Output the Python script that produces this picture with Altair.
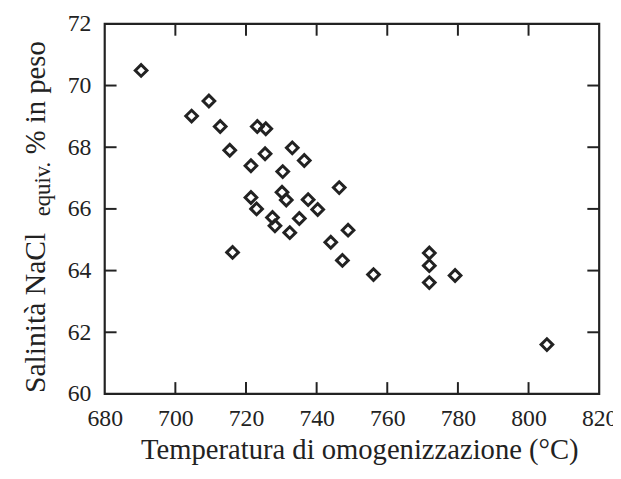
import altair as alt
import pandas as pd

# Data
temperatura = [690.3, 704.6, 709.5, 712.7, 723.2, 725.6, 715.4, 725.4, 733.1, 736.5, 721.4,
               730.4, 746.4, 721.4, 730.2, 731.4, 737.6, 740.3, 723.0, 727.5, 728.2, 735.1,
               732.4, 748.9, 744.0, 747.3, 716.2, 756.1, 771.9, 771.9, 771.9, 779.2, 805.2]
salinita = [70.49, 69.01, 69.5, 68.67, 68.67, 68.6, 67.9, 67.79, 67.98, 67.57, 67.40,
            67.21, 66.69, 66.37, 66.54, 66.29, 66.30, 65.98, 66.0, 65.72, 65.45, 65.69,
            65.23, 65.31, 64.92, 64.33, 64.59, 63.87, 64.57, 64.16, 63.61, 63.84, 61.6]
x_tick_labels = [680, 700, 720, 740, 760, 780, 800, 820]
y_tick_labels = [60, 62, 64, 66, 68, 70, 72]
x_inner_ticks = [700, 720, 740, 760, 780, 800]
y_inner_ticks = [62, 64, 66, 68, 70]

FONT = "Liberation Serif"
INK = "#222222"
W, H = 501, 375
TICK = 12

df = pd.DataFrame({"temp": temperatura, "sal": salinita})
dfx = pd.DataFrame({"temp": x_inner_ticks})
dfy = pd.DataFrame({"sal": y_inner_ticks})
one = pd.DataFrame({"k": [0]})

xscale = alt.Scale(domain=[680, 820], nice=False, zero=False)
yscale = alt.Scale(domain=[60, 72], nice=False, zero=False)

xaxis = alt.Axis(values=x_tick_labels, ticks=False, domain=False, grid=False,
                 labelFont=FONT, labelFontSize=24, labelColor=INK,
                 labelPadding=13, labelFlush=False, labelOverlap=False, labelBound=False,
                 title="Temperatura di omogenizzazione (°C)", titlePadding=5,
                 titleFont=FONT, titleFontSize=29, titleFontWeight="normal", titleColor=INK,
                 titleX=258, titleAlign="center")
yaxis = alt.Axis(values=y_tick_labels, ticks=False, domain=False, grid=False,
                 labelFont=FONT, labelFontSize=24, labelColor=INK,
                 labelPadding=14, labelFlush=False, labelOverlap=False, labelBound=False,
                 title=None)

X = lambda: alt.X("temp:Q", scale=xscale, axis=xaxis)
Y = lambda: alt.Y("sal:Q", scale=yscale, axis=yaxis)

points = alt.Chart(df).mark_point(shape="diamond", filled=False, size=140,
                                  strokeWidth=3, color=INK, opacity=1).encode(x=X(), y=Y())

tick_style = dict(color=INK, strokeWidth=2)
bottom = alt.Chart(dfx).mark_rule(**tick_style).encode(x=X(), y=alt.value(H), y2=alt.value(H - TICK))
top = alt.Chart(dfx).mark_rule(**tick_style).encode(x=X(), y=alt.value(0), y2=alt.value(TICK))
left = alt.Chart(dfy).mark_rule(**tick_style).encode(y=Y(), x=alt.value(0), x2=alt.value(TICK))
right = alt.Chart(dfy).mark_rule(**tick_style).encode(y=Y(), x=alt.value(W), x2=alt.value(W - TICK))

title_main = alt.Chart(one).mark_text(text="Salinità NaCl", angle=270, align="left",
                                      baseline="alphabetic", font=FONT, fontSize=30,
                                      color=INK).encode(x=alt.value(-61), y=alt.value(374))
title_sub = alt.Chart(one).mark_text(text="equiv.", angle=270, align="left",
                                     baseline="alphabetic", font=FONT, fontSize=23,
                                     color=INK).encode(x=alt.value(-55), y=alt.value(195))
title_end = alt.Chart(one).mark_text(text="% in peso", angle=270, align="left",
                                     baseline="alphabetic", font=FONT, fontSize=29,
                                     color=INK).encode(x=alt.value(-61), y=alt.value(132))

chart = alt.layer(points, bottom, top, left, right, title_main, title_sub, title_end).properties(
    width=W, height=H,
    background="white",
    autosize=alt.AutoSizeParams(type="none"),
    padding={"left": 98, "top": 13, "right": 14, "bottom": 75},
).configure_view(stroke=INK, strokeWidth=2.2)

chart.save("out.html", embed_options={"renderer": "svg", "actions": False})
